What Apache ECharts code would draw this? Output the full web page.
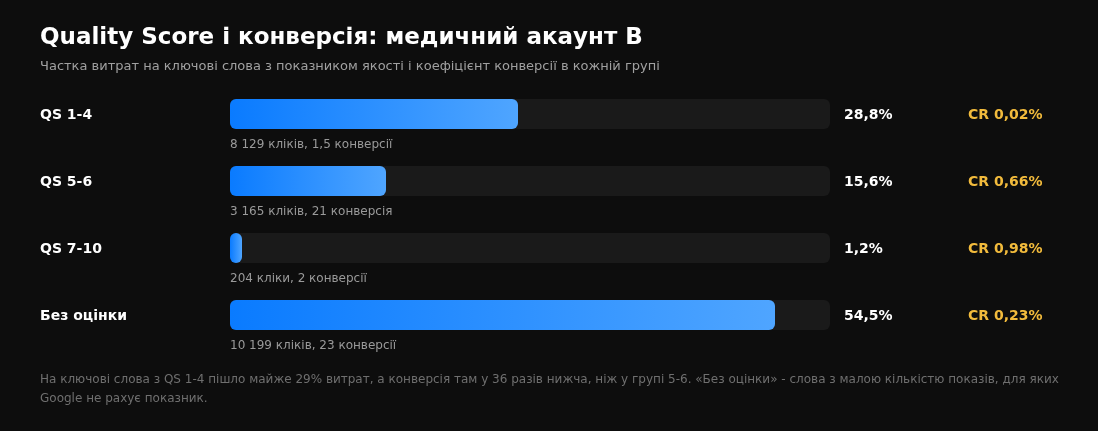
<!DOCTYPE html>
<html>
<head>
<meta charset="utf-8">
<script src="https://cdn.jsdelivr.net/npm/echarts@6/dist/echarts.min.js"></script>
<style>
html,body{margin:0;padding:0;background:#0d0d0d;}
#c{width:1098px;height:431px;}
</style>
</head>
<body>
<div id="c"></div>
<script>
const categories = ['QS 1-4', 'QS 5-6', 'QS 7-10', 'Без оцінки'];
const spendShare = [28.8, 15.6, 1.2, 54.5];
const spendLabels = ['28,8%', '15,6%', '1,2%', '54,5%'];
const crLabels = ['CR 0,02%', 'CR 0,66%', 'CR 0,98%', 'CR 0,23%'];
const detailLabels = ['8 129 кліків, 1,5 конверсії', '3 165 кліків, 21 конверсія', '204 кліки, 2 конверсії', '10 199 кліків, 23 конверсії'];
const axisMax = 60;
const trackValues = categories.map(() => axisMax);

const FONT = 'DejaVu Sans, sans-serif';
const chart = echarts.init(document.getElementById('c'));
chart.setOption({
  backgroundColor: '#0d0d0d',
  animation: false,
  title: [
    { text: 'Quality Score і конверсія: медичний акаунт B', left: 40, top: 27, padding: 0,
      textStyle: { color: '#ffffff', fontSize: 23, fontWeight: 'bold', fontFamily: FONT } },
    { text: 'Частка витрат на ключові слова з показником якості і коефіцієнт конверсії в кожній групі', left: 40, top: 60, padding: 0,
      textStyle: { color: '#a0a0a0', fontSize: 13, fontWeight: 'normal', fontFamily: FONT } },
    { text: 'На ключові слова з QS 1-4 пішло майже 29% витрат, а конверсія там у 36 разів нижча, ніж у групі 5-6. «Без оцінки» - слова з малою кількістю показів, для яких\nGoogle не рахує показник.',
      left: 40, top: 370, padding: 0,
      textStyle: { color: '#6f6f6f', fontSize: 12, fontWeight: 'normal', fontFamily: FONT, lineHeight: 19 } }
  ],
  grid: { left: 230, right: 268, top: 80.5, bottom: 82.5 },
  xAxis: { type: 'value', min: 0, max: axisMax, show: false },
  yAxis: {
    type: 'category', data: categories, inverse: true,
    axisLine: { show: false }, axisTick: { show: false }, splitLine: { show: false },
    axisLabel: {
      align: 'left', margin: 190,
      formatter: v => '{a|' + v + '}',
      rich: { a: { color: '#ffffff', fontSize: 14, fontWeight: 'bold', fontFamily: FONT, padding: [2, 0, 0, 0] } }
    }
  },
  series: [
    {
      type: 'bar', data: trackValues, barWidth: 30, barGap: '-100%', silent: true,
      itemStyle: { color: '#1a1a1a', borderRadius: 6 },
      label: {
        show: true, position: 'right', distance: 14, padding: [2, 0, 0, 0],
        formatter: p => '{p|' + spendLabels[p.dataIndex] + '}{c|' + crLabels[p.dataIndex] + '}',
        rich: {
          p: { color: '#ffffff', fontSize: 14, fontWeight: 'bold', fontFamily: FONT, width: 124 },
          c: { color: '#f2bb3c', fontSize: 14, fontWeight: 'bold', fontFamily: FONT }
        }
      }
    },
    {
      type: 'bar', data: spendShare, barWidth: 30, barGap: '-100%', silent: true,
      itemStyle: {
        borderRadius: 6,
        color: new echarts.graphic.LinearGradient(0, 0, 1, 0, [
          { offset: 0, color: '#0a7bff' },
          { offset: 1, color: '#4fa5ff' }
        ])
      },
      label: {
        show: true, position: [0, 46], align: 'left', verticalAlign: 'middle',
        formatter: p => detailLabels[p.dataIndex],
        color: '#9a9a9a', fontSize: 12, fontFamily: FONT
      }
    }
  ]
});
</script>
</body>
</html>
